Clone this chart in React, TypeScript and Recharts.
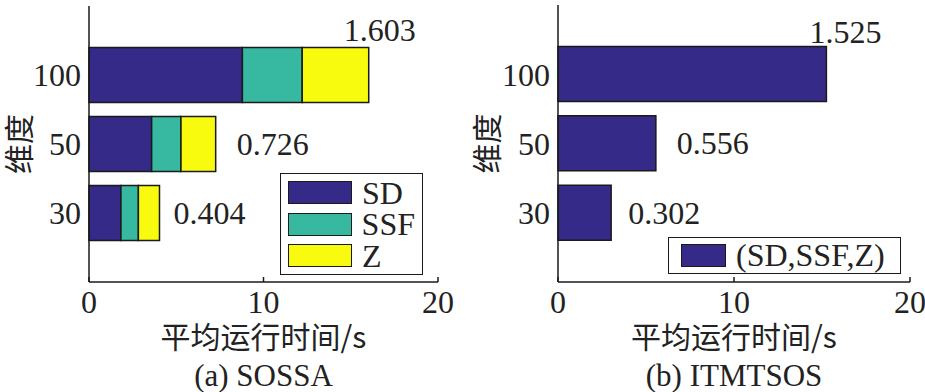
import { Bar, BarChart, LabelList, Legend, XAxis, YAxis } from "recharts";

// dimensions (top to bottom)
const dims = ["100", "50", "30"];

// (a) SOSSA, stacked run time parts (s)
const sdTime = [8.79, 3.59, 1.83];
const ssfTime = [3.43, 1.68, 1.0];
const zTime = [3.81, 1.99, 1.21];
const sossaLabels = ["1.603", "0.726", "0.404"];

// (b) ITMTSOS, total run time (s)
const itmTime = [15.25, 5.56, 3.02];
const itmLabels = ["1.525", "0.556", "0.302"];

const xTicks = [0, 10, 20];

const SERIF = "'Liberation Serif', 'Times New Roman', serif";
const CJK = "'Noto Sans CJK SC', sans-serif";
const INK = "#1a1a1a";
const NAVY = "#352a87";
const TEAL = "#36b8a1";
const YELLOW = "#f9fb0e";

const sossaData = dims.map((dim, i) => ({
  dim,
  sd: sdTime[i],
  ssf: ssfTime[i],
  z: zTime[i],
  label: sossaLabels[i],
}));

const itmData = dims.map((dim, i) => ({
  dim,
  total: itmTime[i],
  label: itmLabels[i],
}));

const axisLine = { stroke: INK, strokeWidth: 1.5 };
const tickFont = { fontSize: 32, fill: "#222", fontFamily: SERIF };
const catPadding = { top: 34.5, bottom: 34.5 };

type Offset = { dx: number; dy: number };

const makeValueLabel = (offsets: Offset[]) => (props: any) => {
  const { x, y, width, height, index, value } = props;
  const o = offsets[index] ?? { dx: 16, dy: 0 };
  return (
    <text
      x={Number(x) + Number(width) + o.dx}
      y={Number(y) + Number(height) / 2 + o.dy}
      dominantBaseline="central"
      fontSize={32}
      fontFamily={SERIF}
      fill="#222"
    >
      {value}
    </text>
  );
};

const makeLegend =
  (swatchWidth: number, rowHeight: number, padding: string) =>
  ({ payload }: any) => (
    <div
      style={{
        border: `1.5px solid ${INK}`,
        background: "#fff",
        boxSizing: "border-box",
        width: "100%",
        height: "100%",
        padding,
      }}
    >
      {(payload || []).map((item: any) => (
        <div
          key={item.value}
          style={{ display: "flex", alignItems: "center", height: rowHeight }}
        >
          <span
            style={{
              display: "inline-block",
              width: swatchWidth,
              height: 23,
              background: item.color,
              border: `1.5px solid ${INK}`,
              boxSizing: "border-box",
              marginRight: 10,
            }}
          />
          <span
            style={{
              fontFamily: SERIF,
              fontSize: 32,
              lineHeight: 1,
              color: "#222",
            }}
          >
            {item.value}
          </span>
        </div>
      ))}
    </div>
  );

const captionStyle = (left: number, width: number) =>
  ({
    position: "absolute",
    left,
    width,
    top: 360,
    lineHeight: "31px",
    textAlign: "center",
    fontFamily: SERIF,
    fontSize: 31,
    color: "#222",
  }) as const;

export default function App() {
  return (
    <div
      style={{
        position: "absolute",
        left: 0,
        top: 0,
        width: 925,
        height: 392,
        background: "#fff",
        overflow: "hidden",
      }}
    >
      <div style={{ position: "absolute", left: 0, top: 0 }}>
        <BarChart
          width={460}
          height={392}
          data={sossaData}
          layout="vertical"
          margin={{ top: 6, right: 22, bottom: 80, left: 0 }}
        >
          <XAxis
            type="number"
            domain={[0, 20]}
            ticks={xTicks}
            interval={0}
            height={30}
            tickSize={-5}
            tickMargin={13}
            axisLine={axisLine}
            tickLine={axisLine}
            tick={tickFont}
            label={{
              value: "平均运行时间/s",
              position: "bottom",
              offset: 15,
              style: { fontFamily: CJK, fontSize: 30, fill: "#222" },
            }}
          />
          <XAxis
            xAxisId="top"
            orientation="top"
            type="number"
            domain={[0, 20]}
            ticks={[10]}
            height={0}
            tick={false}
            tickSize={-5}
            axisLine={axisLine}
            tickLine={axisLine}
          />
          <YAxis
            type="category"
            dataKey="dim"
            width={89}
            tickSize={0}
            tickMargin={8}
            tickLine={false}
            axisLine={axisLine}
            tick={tickFont}
            padding={catPadding}
            label={{
              value: "维度",
              angle: -90,
              position: "insideLeft",
              offset: 19,
              style: { fontFamily: CJK, fontSize: 30, fill: "#222", textAnchor: "middle" },
            }}
          />
          <YAxis
            yAxisId="right"
            orientation="right"
            type="category"
            dataKey="dim"
            width={0}
            tick={false}
            tickSize={-5}
            axisLine={axisLine}
            tickLine={axisLine}
            padding={catPadding}
          />
          <Legend
            layout="vertical"
            align="center"
            verticalAlign="middle"
            wrapperStyle={{ left: 280, top: 173, width: 143, height: 102 }}
            content={makeLegend(64, 31.6, "3px 7px")}
          />
          <Bar dataKey="sd" name="SD" stackId="t" fill={NAVY} stroke={INK} strokeWidth={1.5} barSize={55} isAnimationActive={false} />
          <Bar dataKey="ssf" name="SSF" stackId="t" fill={TEAL} stroke={INK} strokeWidth={1.5} barSize={55} isAnimationActive={false} />
          <Bar dataKey="z" name="Z" stackId="t" fill={YELLOW} stroke={INK} strokeWidth={1.5} barSize={55} isAnimationActive={false}>
            <LabelList
              dataKey="label"
              content={makeValueLabel([
                { dx: -25, dy: -45 },
                { dx: 21, dy: 0 },
                { dx: 14, dy: 0 },
              ])}
            />
          </Bar>
        </BarChart>
        <div style={captionStyle(89, 349)}>(a) SOSSA</div>
      </div>

      <div style={{ position: "absolute", left: 460, top: 0, width: 465, height: 392 }}>
        <BarChart
          width={465}
          height={392}
          data={itmData}
          layout="vertical"
          margin={{ top: 5, right: 15, bottom: 80, left: 0 }}
        >
          <XAxis
            type="number"
            domain={[0, 20]}
            ticks={xTicks}
            interval={0}
            height={30}
            tickSize={-5}
            tickMargin={13}
            axisLine={axisLine}
            tickLine={axisLine}
            tick={tickFont}
            label={{
              value: "平均运行时间/s",
              position: "bottom",
              offset: 15,
              style: { fontFamily: CJK, fontSize: 30, fill: "#222" },
            }}
          />
          <XAxis
            xAxisId="top"
            orientation="top"
            type="number"
            domain={[0, 20]}
            ticks={[10]}
            height={0}
            tick={false}
            tickSize={-5}
            axisLine={axisLine}
            tickLine={axisLine}
          />
          <YAxis
            type="category"
            dataKey="dim"
            width={98}
            tickSize={0}
            tickMargin={8}
            tickLine={false}
            axisLine={axisLine}
            tick={tickFont}
            padding={catPadding}
            label={{
              value: "维度",
              angle: -90,
              position: "insideLeft",
              offset: 27,
              style: { fontFamily: CJK, fontSize: 30, fill: "#222", textAnchor: "middle" },
            }}
          />
          <YAxis
            yAxisId="right"
            orientation="right"
            type="category"
            dataKey="dim"
            width={0}
            tick={false}
            tickSize={-5}
            axisLine={axisLine}
            tickLine={axisLine}
            padding={catPadding}
          />
          <Legend
            layout="vertical"
            align="center"
            verticalAlign="middle"
            wrapperStyle={{ left: 208, top: 237, width: 233, height: 37 }}
            content={makeLegend(45, 34, "0 12px")}
          />
          <Bar dataKey="total" name="(SD,SSF,Z)" fill={NAVY} stroke={INK} strokeWidth={1.5} barSize={55} isAnimationActive={false}>
            <LabelList
              dataKey="label"
              content={makeValueLabel([
                { dx: -17, dy: -42 },
                { dx: 21, dy: 0 },
                { dx: 17, dy: 0 },
              ])}
            />
          </Bar>
        </BarChart>
        <div style={captionStyle(98, 352)}>(b) ITMTSOS</div>
      </div>
    </div>
  );
}
